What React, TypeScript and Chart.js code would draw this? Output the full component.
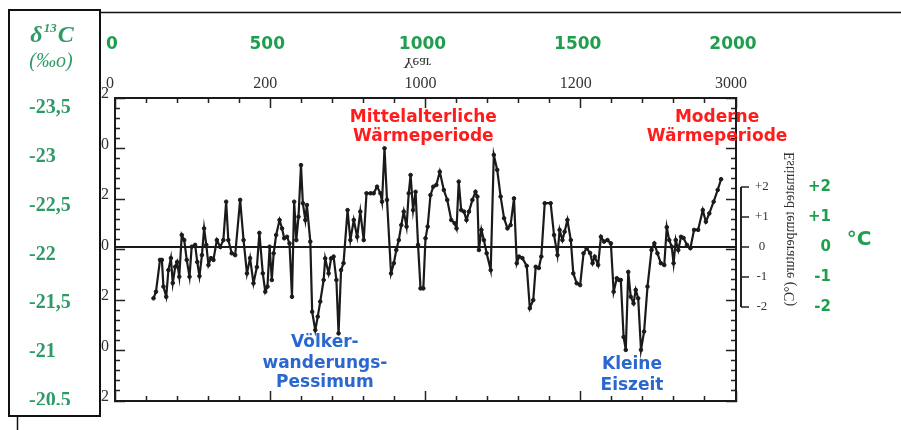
import React, { useEffect, useRef } from 'react';
import { Chart, registerables } from 'chart.js';
Chart.register(...registerables);

const SERIF = '"Liberation Serif", "DejaVu Serif", serif';
const SANS = '"DejaVu Sans", sans-serif';

// Year (AD) of each reconstructed point
const years = [
  124, 132, 145, 151, 156, 165, 172, 180, 186, 194,
  200, 207, 215, 223, 231, 240, 247, 258, 265, 272,
  280, 287, 294, 301, 309, 317, 328, 339, 349, 358,
  365, 376, 387, 403, 414, 425, 435, 446, 457, 465,
  476, 484, 491, 498, 505, 511, 519, 530, 538, 545,
  554, 562, 570, 577, 584, 591, 599, 605, 613, 618,
  629, 635, 645, 653, 661, 672, 677, 688, 696, 704,
  713, 720, 728, 736, 749, 758, 769, 780, 790, 801,
  810, 823, 833, 844, 855, 860, 868, 876, 889, 898,
  906, 914, 922, 930, 939, 946, 952, 960, 968, 976,
  984, 993, 1000, 1007, 1016, 1025, 1035, 1046, 1059, 1070,
  1083, 1094, 1100, 1107, 1115, 1124, 1132, 1140, 1151, 1161,
  1167, 1172, 1180, 1188, 1197, 1210, 1220, 1231, 1242, 1253,
  1264, 1274, 1285, 1294, 1301, 1312, 1326, 1336, 1347, 1355,
  1365, 1373, 1384, 1403, 1414, 1425, 1432, 1441, 1448, 1457,
  1468, 1476, 1487, 1498, 1509, 1519, 1530, 1538, 1545, 1556,
  1565, 1575, 1586, 1597, 1606, 1616, 1623, 1629, 1638, 1645,
  1653, 1661, 1670, 1677, 1685, 1694, 1704, 1715, 1728, 1737,
  1747, 1758, 1769, 1777, 1785, 1793, 1799, 1806, 1814, 1823,
  1831, 1842, 1853, 1865, 1878, 1893, 1903, 1914, 1928, 1941,
  1952,
];

// Estimated temperature anomaly (°C)
const anomaly = [
  -1.71, -1.49, -0.43, -0.43, -1.32, -1.66, -0.77, -0.37, -1.2, -0.66,
  -0.5, -0.99, 0.4, 0.23, -0.43, -0.99, 0.01, 0.07, -0.5, -0.97,
  -0.27, 0.62, 0.07, -0.6, -0.37, -0.43, 0.23, 0, 0.23, 1.51,
  0.23, -0.21, -0.27, 1.57, 0.23, -0.88, -0.37, -1.21, -0.67, 0.47,
  -0.88, -1.49, -1.32, 0.01, -1.1, -0.21, 0.4, 0.9, 0.62, 0.29,
  0.34, 0.12, -1.66, 1.51, 0.23, 1.01, 2.73, 1.46, 0.9, 1.4,
  0.18, -2.16, -2.77, -2.32, -1.82, -1.1, -0.38, -0.88, -0.38, -0.32,
  -1.1, -2.88, -0.77, -0.54, 1.23, 0.23, 0.9, 0.34, 1.18, 0.23,
  1.79, 1.79, 1.79, 2.01, 1.79, 1.51, 3.29, 1.57, -0.88, -0.54,
  -0.1, 0.23, 0.73, 1.18, 0.68, 1.79, 2.4, 1.23, 1.84, 0.07,
  -1.38, -1.38, 0.29, 0.68, 1.73, 2.01, 2.07, 2.51, 1.9, 1.57,
  0.9, 0.79, 0.62, 2.18, 1.23, 1.18, 0.9, 1.18, 1.57, 1.84,
  1.68, -0.1, 0.57, 0.23, -0.21, -0.77, 3.07, 2.57, 1.68, 0.96,
  0.62, 0.73, 1.62, -0.54, -0.32, -0.37, -0.63, -2.04, -1.77, -0.66,
  -0.7, -0.32, 1.46, 1.46, 0.4, -0.27, 0.57, 0.23, 0.51, 0.9,
  0.23, -0.88, -1.21, -1.27, -0.21, -0.04, -0.2, -0.54, -0.32, -0.6,
  0.34, 0.18, 0.23, 0.12, -1.49, -1.04, -1.1, -1.1, -3.0, -3.43,
  -0.83, -1.66, -1.88, -1.43, -1.71, -3.43, -2.82, -1.32, -0.1, 0.12,
  -0.21, -0.54, -0.6, 0.66, 0.23, 0.01, -0.54, 0.23, -0.1, 0.34,
  0.3, 0.07, -0.04, 0.57, 0.57, 1.23, 0.84, 1.12, 1.51, 1.9,
  2.26,
];

const topBlackLabels = ['0', '200', '1000', '1200', '3000'];
const greenYearTicks = [0, 500, 1000, 1500, 2000];
const greenYearLabels = ['0', '500', '1000', '1500', '2000'];
const d13cTicks = [-23.5, -23, -22.5, -22, -21.5, -21, -20.5];
const d13cLabels = ['-23,5', '-23', '-22,5', '-22', '-21,5', '-21', '-20,5'];
const innerLeftLabels = ['2', '0', '2', '0', '2', '0', '2'];
const bracketTicks = [2, 1, 0, -1, -2];
const bracketLabels = ['+2', '+1', '0', '-1', '-2'];
const greenTempLabels = ['+2', '+1', '0', '-1', '-2'];

const RED = '#ff1c1c';
const BLUE = '#2a68cf';
const GREEN_D = '#2f9a68';
const GREEN_T = '#1f9e4e';
const INK = '#1a1a1a';

const mod = (v: number, s: number) => Math.abs(Math.round(v) % s) === 0;

export default function App() {
  const ref = useRef<HTMLCanvasElement>(null);
  useEffect(() => {
    const canvas = ref.current!;
    const decor = {
      id: 'decor',
      afterDraw(chart: any) {
        const ctx = chart.ctx as CanvasRenderingContext2D;
        const sx = chart.scales.x;
        const sy = chart.scales.y;
        ctx.save();
        // cut the last δ13C label like the reference
        ctx.fillStyle = '#fff';
        ctx.fillRect(10, 405, 89, 10);
        // framed box
        ctx.strokeStyle = '#111';
        ctx.lineWidth = 2;
        ctx.strokeRect(9, 10, 91, 406);
        ctx.lineWidth = 1.5;
        ctx.beginPath(); ctx.moveTo(100, 12.5); ctx.lineTo(901, 12.5); ctx.stroke();
        ctx.beginPath(); ctx.moveTo(17.5, 417); ctx.lineTo(17.5, 430); ctx.stroke();
        // bracket of the temperature scale
        ctx.lineWidth = 2;
        ctx.strokeStyle = '#222';
        ctx.beginPath();
        ctx.moveTo(sy.left, sy.getPixelForValue(bracketTicks[0]));
        ctx.lineTo(sy.left, sy.getPixelForValue(bracketTicks[bracketTicks.length - 1]));
        ctx.stroke();

        // δ13C title
        ctx.fillStyle = GREEN_D;
        ctx.textBaseline = 'alphabetic';
        ctx.textAlign = 'left';
        const big = `italic bold 24px ${SERIF}`;
        const sup = `italic bold 13px ${SERIF}`;
        ctx.font = big; const w1 = ctx.measureText('δ').width; const w3 = ctx.measureText('C').width;
        ctx.font = sup; const w2 = ctx.measureText('13').width;
        let tx = 52 - (w1 + w2 + w3 + 2) / 2;
        ctx.font = big; ctx.fillText('δ', tx, 42); tx += w1 + 1;
        ctx.font = sup; ctx.fillText('13', tx, 32); tx += w2 + 1;
        ctx.font = big; ctx.fillText('C', tx, 42);
        ctx.font = `italic 20px ${SERIF}`;
        ctx.textAlign = 'center';
        ctx.fillText('(‰o)', 51, 67);

        // flipped "Year"
        ctx.save();
        ctx.translate(417, 62);
        ctx.scale(1, -1);
        ctx.font = `15px ${SERIF}`;
        ctx.fillStyle = '#333';
        ctx.textBaseline = 'middle';
        ctx.fillText('Year', 0, 0);
        ctx.restore();

        // flipped, rotated axis title
        ctx.save();
        ctx.translate(790, 229);
        ctx.scale(1, -1);
        ctx.rotate(-Math.PI / 2);
        ctx.font = `14px ${SERIF}`;
        ctx.fillStyle = '#333';
        ctx.textAlign = 'center';
        ctx.textBaseline = 'middle';
        ctx.fillText('Estimated temperature (°C)', 0, 0);
        ctx.restore();

        // °C
        ctx.font = `bold 20px ${SANS}`;
        ctx.fillStyle = GREEN_T;
        ctx.textAlign = 'center';
        ctx.textBaseline = 'middle';
        ctx.fillText('°C', 859, 240);

        // period annotations
        const notes = [
          { t: 'Mittelalterliche', x: 993, y: 4.33, c: RED },
          { t: 'Wärmeperiode', x: 993, y: 3.67, c: RED },
          { t: 'Moderne', x: 1939, y: 4.33, c: RED },
          { t: 'Wärmeperiode', x: 1939, y: 3.67, c: RED },
          { t: 'Völker-', x: 676, y: -3.17, c: BLUE },
          { t: 'wanderungs-', x: 676, y: -3.87, c: BLUE },
          { t: 'Pessimum', x: 676, y: -4.53, c: BLUE },
          { t: 'Kleine', x: 1665, y: -3.93, c: BLUE },
          { t: 'Eiszeit', x: 1665, y: -4.63, c: BLUE },
        ];
        ctx.font = `bold 17px ${SANS}`;
        for (const n of notes) {
          ctx.fillStyle = n.c;
          ctx.fillText(n.t, sx.getPixelForValue(n.x), sy.getPixelForValue(n.y));
        }
        ctx.restore();
      },
    };

    const innerTicksGrid = (pattern: number[]) => ({
      drawOnChartArea: false,
      drawTicks: true,
      tickLength: -10,
      tickWidth: 1.5,
      tickColor: '#222',
      tickBorderDash: (c: any) => (c.tick && mod(c.tick.value, 5) ? [] : pattern),
    });
    const innerTicksGridX = (pattern: number[]) => ({
      drawOnChartArea: false,
      drawTicks: true,
      tickLength: -10,
      tickWidth: 1.5,
      tickColor: '#222',
      tickBorderDash: (c: any) => (c.tick && mod(c.tick.value, 500) ? [] : pattern),
    });
    const frame = { display: true, width: 2, color: '#1a1a1a' };

    const chart = new Chart(canvas, {
      type: 'line',
      data: {
        datasets: [
          {
            data: years.map((x, i) => ({ x, y: anomaly[i] })),
            xAxisID: 'x',
            yAxisID: 'y',
            borderColor: INK,
            borderWidth: 2.2,
            pointRadius: 1.8,
            pointBackgroundColor: INK,
            pointBorderColor: INK,
            pointBorderWidth: 1,
            tension: 0,
          },
        ],
      },
      options: {
        animation: false,
        responsive: false,
        devicePixelRatio: 1,
        layout: { padding: { left: 29, right: 70, top: 0, bottom: 0 } },
        plugins: { legend: { display: false }, tooltip: { enabled: false }, title: { display: false } },
        scales: {
          x: {
            type: 'linear', position: 'bottom', min: 0, max: 2000,
            ticks: { stepSize: 100, display: false, autoSkip: false },
            grid: innerTicksGridX([6, 100]) as any,
            border: frame,
            afterFit: (s: any) => { s.height = 29; },
          },
          xT: {
            type: 'linear', position: 'top', min: 0, max: 2000, weight: 1,
            ticks: {
              stepSize: 100, autoSkip: false, maxRotation: 0, labelOffset: -5, padding: 15,
              color: '#333', font: { family: SERIF, size: 16 },
              callback: (v: any) => (mod(v, 500) ? topBlackLabels[Math.round(v / 500)] : ''),
            },
            grid: innerTicksGridX([0, 5, 6, 100]) as any,
            border: frame,
            afterFit: (s: any) => { s.height = 40; },
          },
          xG: {
            type: 'linear', position: 'top', min: 0, max: 2000, weight: 2,
            afterBuildTicks: (s: any) => { s.ticks = greenYearTicks.map((v) => ({ value: v })); },
            ticks: {
              autoSkip: false, maxRotation: 0, labelOffset: -3, padding: 3,
              color: GREEN_T, font: { family: SANS, size: 17, weight: 'bold' },
              callback: (v: any) => greenYearLabels[greenYearTicks.indexOf(v)] ?? '',
            },
            grid: { display: false, drawTicks: false },
            border: { display: false },
            afterFit: (s: any) => { s.height = 58; },
          },
          yD: {
            type: 'linear', position: 'left', min: -23.602, max: -20.5, reverse: true, weight: 2,
            afterBuildTicks: (s: any) => { s.ticks = d13cTicks.map((v) => ({ value: v })); },
            ticks: {
              autoSkip: false, crossAlign: 'far', color: GREEN_D,
              font: { family: SERIF, size: 20, weight: 'bold' },
              callback: (v: any) => d13cLabels[d13cTicks.indexOf(v)] ?? '',
            },
            grid: { display: false, drawTicks: false },
            border: { display: false },
            afterFit: (s: any) => { s.width = 71; },
          },
          yL: {
            type: 'linear', position: 'left', min: 0, max: 30, reverse: true, weight: 1,
            ticks: {
              stepSize: 1, autoSkip: false, padding: 16, labelOffset: -4,
              color: '#333', font: { family: SERIF, size: 16 },
              callback: (v: any) => (mod(v, 5) ? innerLeftLabels[Math.round(v / 5)] : ''),
            },
            grid: innerTicksGrid([0, 5, 6, 100]) as any,
            border: frame,
            afterFit: (s: any) => { s.width = 15; },
          },
          yR: {
            type: 'linear', position: 'right', min: 0, max: 30, reverse: true, weight: 1,
            ticks: { stepSize: 1, autoSkip: false, display: false },
            grid: innerTicksGrid([6, 100]) as any,
            border: frame,
            afterFit: (s: any) => { s.width = 5; },
          },
          y: {
            type: 'linear', position: 'right', min: -5.1333, max: 4.9667, weight: 2,
            afterBuildTicks: (s: any) => { s.ticks = bracketTicks.map((v) => ({ value: v })); },
            ticks: {
              autoSkip: false, crossAlign: 'center', padding: 6, color: '#333',
              font: { family: SERIF, size: 13 },
              callback: (v: any) => bracketLabels[bracketTicks.indexOf(v)] ?? '',
            },
            grid: {
              drawOnChartArea: true,
              color: '#1a1a1a',
              lineWidth: (c: any) => (c.tick && c.tick.value === 0 ? 2 : 0),
              drawTicks: true,
              tickLength: 8,
              tickWidth: 1.5,
              tickColor: '#222',
            },
            border: { display: false },
            afterFit: (s: any) => { s.width = 60; },
          },
          yG: {
            type: 'linear', position: 'right', min: -5.1333, max: 4.9667, weight: 3,
            afterBuildTicks: (s: any) => { s.ticks = bracketTicks.map((v) => ({ value: v })); },
            ticks: {
              autoSkip: false, crossAlign: 'far', color: GREEN_T,
              font: { family: SANS, size: 15, weight: 'bold' },
              callback: (v: any) => greenTempLabels[bracketTicks.indexOf(v)] ?? '',
            },
            grid: { display: false, drawTicks: false },
            border: { display: false },
            afterFit: (s: any) => { s.width = 30; },
          },
        },
      } as any,
      plugins: [decor],
    });
    return () => chart.destroy();
  }, []);

  return (
    <div style={{ position: 'absolute', left: 0, top: 0, width: 901, height: 430, background: '#fff' }}>
      <canvas ref={ref} width={901} height={430} style={{ display: 'block', width: 901, height: 430 }} />
    </div>
  );
}
